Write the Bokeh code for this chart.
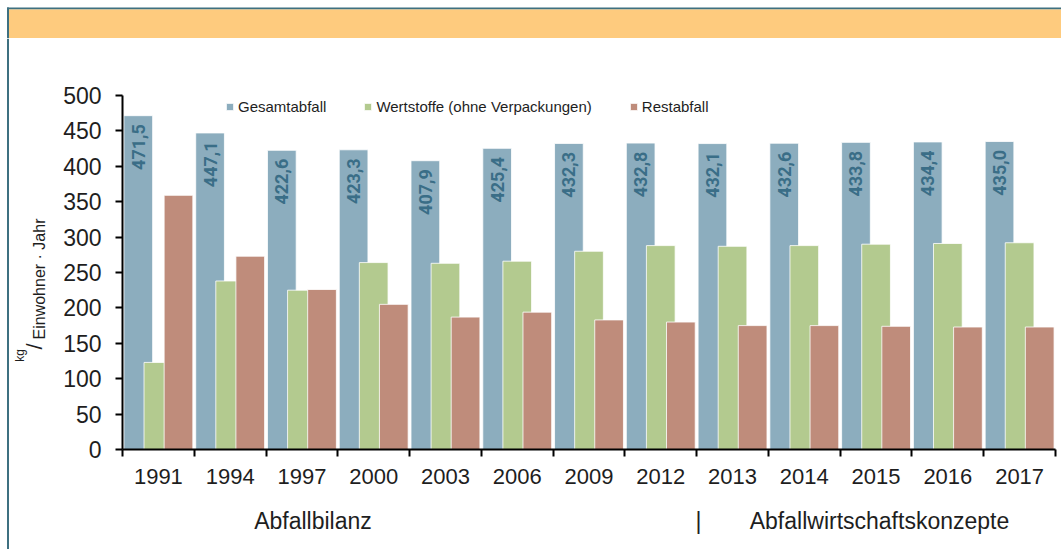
import math
from bokeh.plotting import figure
from bokeh.models import (ColumnDataSource, Range1d, FixedTicker, LinearAxis,
                          Legend, LegendItem)
from bokeh.layouts import column, row
from bokeh.transform import dodge
from bokeh.core.properties import value
from bokeh.embed import file_html
from bokeh.resources import INLINE

# ---- data ----
years = ["1991", "1994", "1997", "2000", "2003", "2006", "2009",
         "2012", "2013", "2014", "2015", "2016", "2017"]
gesamtabfall = [471.5, 447.1, 422.6, 423.3, 407.9, 425.4, 432.3,
                432.8, 432.1, 432.6, 433.8, 434.4, 435.0]
wertstoffe = [123, 238, 225, 264, 263, 266, 280, 288, 287, 288, 290, 291, 292]
restabfall = [359, 273, 226, 205, 187, 194, 183, 180, 175, 175, 174, 173, 173]
series_names = ["Gesamtabfall", "Wertstoffe (ohne Verpackungen)", "Restabfall"]
group_labels = ["Abfallbilanz", "|", "Abfallwirtschaftskonzepte"]
y_ticks = list(range(0, 501, 50))

C_BLUE = "#8CADBE"
C_GREEN = "#B3CA8F"
C_RED = "#BF8C7B"
C_LABEL = "#3A6E87"
C_ORANGE = "#FECB7E"
C_FRAME = "#3E7080"
FONT = "Liberation Sans"
TXT = "#1e1e1e"

# ---- page geometry ----
PAGE_W, PAGE_H = 1061, 549
HEAD_H = 38
STRIP_W = 9
FR_L, FR_R, FR_T, FR_B = 122, 1055, 95, 449
n = len(years)
YMAX = 500
sx = (FR_R - FR_L) / n
sy = (FR_B - FR_T) / YMAX


def px(page_x):
    return (page_x - FR_L) / sx


def py(page_y):
    return (FR_B - page_y) / sy


def blank(w, h):
    f = figure(width=w, height=h, x_range=Range1d(0, w), y_range=Range1d(0, h),
               output_backend="svg", toolbar_location=None,
               x_axis_location=None, y_axis_location=None,
               min_border=0, min_border_left=0, min_border_right=0,
               min_border_top=0, min_border_bottom=0, frame_align=False)
    f.grid.visible = False
    f.outline_line_color = None
    f.background_fill_color = "white"
    f.border_fill_color = "white"
    return f


# header band with frame lines
head = blank(PAGE_W, HEAD_H)
head.quad(left=[6.5], right=[PAGE_W], bottom=[HEAD_H - 9], top=[HEAD_H - 7],
          fill_color=C_FRAME, line_color=None)
head.quad(left=[8.5], right=[PAGE_W], bottom=[HEAD_H - 37.5], top=[HEAD_H - 9],
          fill_color=C_ORANGE, line_color=None)
head.quad(left=[6.5], right=[8.5], bottom=[0], top=[HEAD_H - 7],
          fill_color=C_FRAME, line_color=None)

# left frame line strip
strip = blank(STRIP_W, PAGE_H - HEAD_H)
strip.quad(left=[6.5], right=[8.5], bottom=[0], top=[PAGE_H - HEAD_H],
           fill_color=C_FRAME, line_color=None)

# ---- main chart ----
xc = [i + 0.5 for i in range(n)]
labels = [f"{v:.1f}".replace(".", ",") for v in gesamtabfall]
label_y = [v - 12 for v in gesamtabfall]

src = ColumnDataSource(dict(x=xc, year=years, gesamt=gesamtabfall, wert=wertstoffe,
                            rest=restabfall, label=labels, label_y=label_y))

p = figure(width=PAGE_W - STRIP_W, height=PAGE_H - HEAD_H,
           x_range=Range1d(0, n), y_range=Range1d(0, YMAX),
           output_backend="svg", toolbar_location=None, frame_align=False,
           min_border_left=FR_L - STRIP_W, min_border_right=PAGE_W - FR_R,
           min_border_top=FR_T - HEAD_H, min_border_bottom=PAGE_H - FR_B)
p.outline_line_color = None
p.xgrid.visible = False
p.ygrid.visible = False
p.background_fill_color = "white"
p.border_fill_color = "white"

w = 0.4
r1 = p.vbar(x=dodge("x", -0.28), top="gesamt", width=w, source=src,
            fill_color=C_BLUE, line_color="white", line_width=1, line_alpha=0.8)
r2 = p.vbar(x=dodge("x", 0.0), top="wert", width=w, source=src,
            fill_color=C_GREEN, line_color="white", line_width=1, line_alpha=0.8)
r3 = p.vbar(x=dodge("x", 0.28), top="rest", width=w, source=src,
            fill_color=C_RED, line_color="white", line_width=1, line_alpha=0.8)

p.text(x=dodge("x", -0.28), y="label_y", text="label", source=src,
       angle=math.pi / 2, text_align="right", text_baseline="middle",
       text_font=value("Roboto"), text_font_style="bold", text_font_size="18px",
       text_color=C_LABEL)


def style_text(ax, size, standoff):
    ax.major_label_text_font = FONT
    ax.major_label_text_font_size = size
    ax.major_label_text_color = TXT
    ax.major_label_standoff = standoff


# y axis
ya = p.yaxis[0]
ya.ticker = FixedTicker(ticks=y_ticks)
ya.axis_line_width = 2
ya.axis_line_color = "black"
ya.major_tick_line_width = 2
ya.major_tick_out = 7
ya.major_tick_in = 0
ya.minor_tick_line_color = None
style_text(ya, "23px", 14)

# x axis: labels at category centres, ticks at category boundaries
xa = p.xaxis[0]
xa.ticker = FixedTicker(ticks=xc, minor_ticks=list(range(n + 1)))
xa.major_label_overrides = {c: y for c, y in zip(xc, years)}
xa.axis_line_width = 2
xa.axis_line_color = "black"
xa.major_tick_line_color = None
xa.major_tick_out = 0
xa.major_tick_in = 0
xa.minor_tick_out = 7
xa.minor_tick_in = 0
xa.minor_tick_line_width = 2
xa.minor_tick_line_color = "black"
style_text(xa, "22px", 12)


def text_axis(ticks, texts, size, standoff, side, vertical=False):
    ax = LinearAxis(ticker=FixedTicker(ticks=ticks, minor_ticks=[]),
                    major_label_overrides={t: s for t, s in zip(ticks, texts)})
    ax.axis_line_color = None
    ax.major_tick_line_color = None
    ax.minor_tick_line_color = None
    ax.major_tick_out = 0
    ax.major_tick_in = 0
    if vertical:
        ax.major_label_orientation = "vertical"
    style_text(ax, size, standoff)
    p.add_layout(ax, side)
    return ax


# group labels row under the x axis
text_axis([px(312.5), px(698), px(879)], group_labels, "23px", 21, "below")

# y-axis unit label  kg / Einwohner · Jahr  (three stacked text axes)
text_axis([py(278.5)], ["Einwohner · Jahr"], "16px", 13, "left", vertical=True)
text_axis([py(346)], ["/"], "22px", -19, "left", vertical=True)
text_axis([py(355)], ["kg"], "12px", -8, "left", vertical=True)

# legend
legend = Legend(items=[LegendItem(label=series_names[0], renderers=[r1]),
                       LegendItem(label=series_names[1], renderers=[r2]),
                       LegendItem(label=series_names[2], renderers=[r3])],
                orientation="horizontal", location=(225 - FR_L, FR_B - 115.5),
                glyph_width=9, glyph_height=9, label_standoff=4, spacing=37,
                padding=0, margin=0, label_height=18,
                background_fill_alpha=0, border_line_color=None,
                label_text_font=FONT, label_text_font_size="15px", label_text_color=TXT)
p.add_layout(legend)

layout = column(head, row(strip, p, spacing=0), spacing=0)

open("out.html", "w").write(file_html(layout, INLINE))
